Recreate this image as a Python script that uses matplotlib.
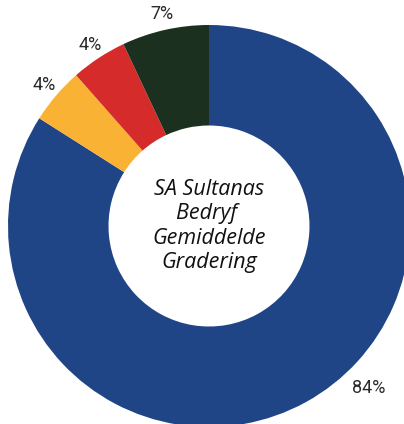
import numpy as np
import matplotlib
matplotlib.use("Agg")
import matplotlib.pyplot as plt

# slices, clockwise from 12 o'clock
categories = ["Groot", "Geel", "Rooi", "Donker"]
values = [84, 4.5, 4.5, 7]
pct_labels = ["84%", "4%", "4%", "7%"]
colors = ["#1f4587", "#f9b233", "#d52b2b", "#1b301f"]
centre_text = "SA Sultanas\nBedryf \nGemiddelde\nGradering"

W, H = 404, 424
fig = plt.figure(figsize=(W / 100, H / 100), dpi=100)
ax = fig.add_axes([0, 0, 1, 1])

wedges, _ = ax.pie(
    values,
    colors=colors,
    startangle=90,
    counterclock=False,
    radius=1.0,
    wedgeprops={"width": 0.5, "linewidth": 0},
)

# label angles: slice midpoints, the large slice label sits lower right
for i, (w, lab) in enumerate(zip(wedges, pct_labels)):
    mid = (w.theta1 + w.theta2) / 2
    dist = 1.08
    if i == 0:
        mid = -45.5
        dist = 1.13
    a = np.deg2rad(mid)
    ax.text(dist * np.cos(a), dist * np.sin(a), lab, ha="center", va="center",
            fontsize=13, color="#2a2a2a", family="Roboto")

ax.text(0.0, 0.0, centre_text, ha="center", va="center", multialignment="center",
        fontsize=15.5, style="italic", family="Open Sans", color="#111111",
        linespacing=1.22)

# centre at (209, 226) px, radius 201 px
scale = 201.0
cx, cy = 209.0, 226.0
ax.set_xlim(-cx / scale, (W - cx) / scale)
ax.set_ylim(-(H - cy) / scale, cy / scale)
ax.set_aspect("auto")
ax.axis("off")

fig.savefig("out.png", dpi=100)
